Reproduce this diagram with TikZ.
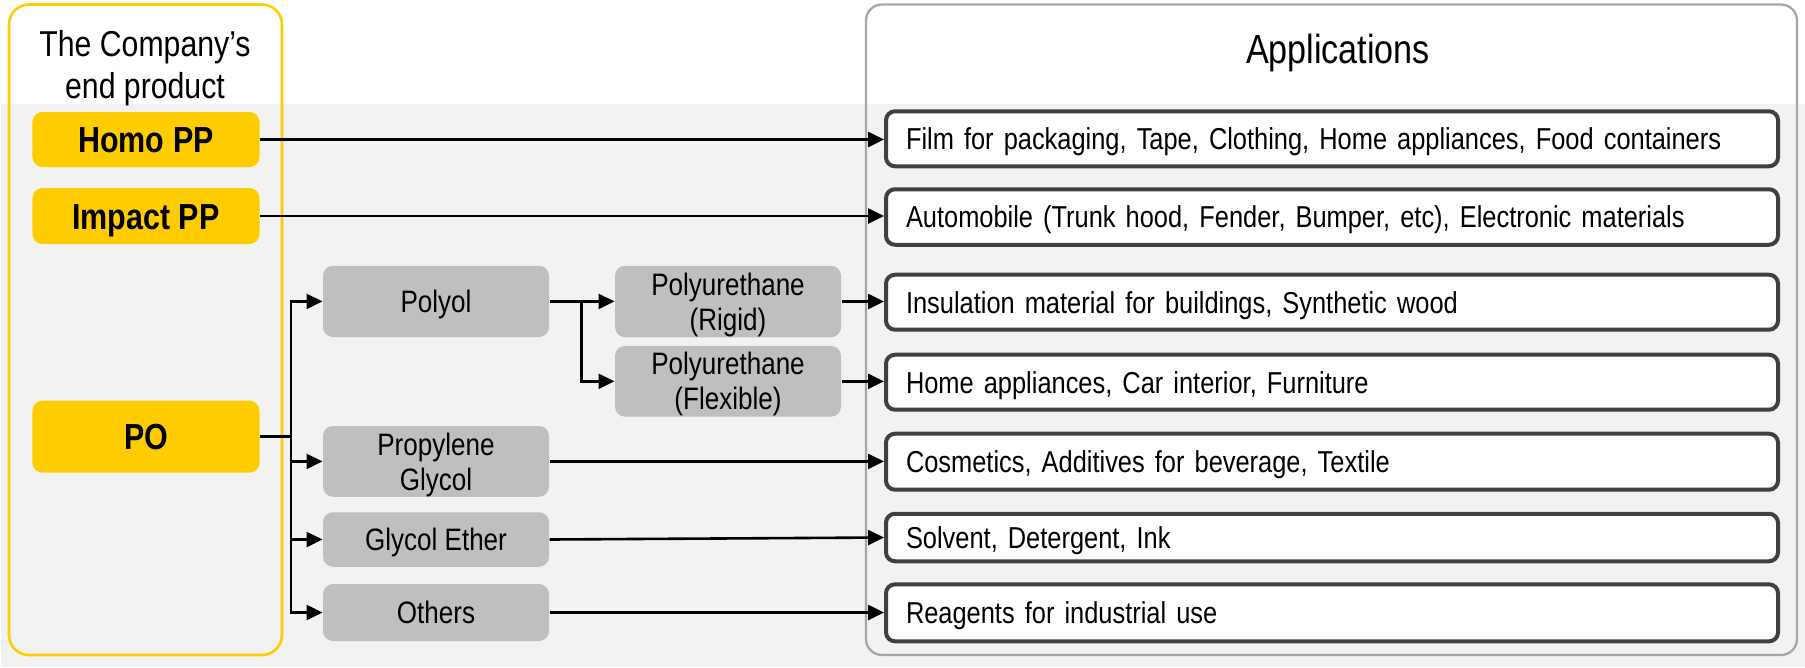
\documentclass[tikz,border=0pt]{standalone}
\usepackage{fontspec}
\setmainfont{Liberation Sans}[FakeStretch=0.84]
\usetikzlibrary{arrows.meta}

% invisible strut that balances the first line of two-line labels
\newcommand\firstlinestrut{\rule{0pt}{11.5pt}}

\definecolor{prodyellow}{HTML}{FFCC00}
\definecolor{bandgray}{HTML}{F2F2F2}
\definecolor{midgray}{HTML}{BFBFBF}
\definecolor{boxedge}{HTML}{404040}
\definecolor{framegray}{HTML}{A6A6A6}

\tikzset{
  conn/.style={line width=1.04pt, black},
  arr/.style={conn, -{Triangle[length=6.4pt,width=6pt]}},
  ybox/.style={fill=prodyellow, rounded corners=4pt, minimum width=90.8pt,
    inner sep=0pt, font=\fontsize{14.5}{17}\selectfont\bfseries,
    text height=10.4pt, text depth=0pt},
  gbox/.style={fill=midgray, rounded corners=4pt, minimum width=90.4pt,
    inner sep=0pt, align=center, font=\fontsize{12.4}{14}\selectfont},
  gone/.style={gbox, text height=8.9pt, text depth=0pt},
  appbox/.style={draw=boxedge, line width=1.6pt, fill=white, rounded corners=3.6pt,
    text width=340.8pt, inner xsep=8pt, inner ysep=0pt, align=left,
    font=\fontsize{12.1}{14}\selectfont, text height=8.7pt, text depth=0pt},
  heading/.style={inner sep=0pt, align=center, font=\fontsize{14.4}{16.7}\selectfont},
}

\begin{document}
\begin{tikzpicture}[x=0.4pt, y=-0.4pt]
\useasboundingbox (0,0) rectangle (1805,667);

% shaded band behind the product rows
\fill[bandgray] (1,104) rectangle (1805,667);

% column frames
\draw[prodyellow, line width=1.04pt, rounded corners=8pt] (9,4.5) rectangle (282,655);
\draw[framegray, line width=0.9pt, rounded corners=6.4pt] (866,4.5) rectangle (1797,655);

% column headings
\node[heading, anchor=north] (prodhead) at (145,30) {The Company’s\\end product};
\node[inner sep=0pt, anchor=base, font=\fontsize{16.25}{19}\selectfont] (apphead) at (1338,63.3) {Applications};

% end products
\node[ybox, minimum height=22pt] (homo) at (146,139.5) {Homo PP};
\node[ybox, minimum height=22.4pt] (impact) at (146,216) {Impact PP};
\node[ybox, minimum height=28.8pt] (po) at (146,436.7) {PO};

% derivatives of PO
\node[gone, minimum height=28.5pt] (polyol) at (436,301.4) {Polyol};
\node[gbox, minimum height=28.3pt] (pg) at (436,461.4) {\firstlinestrut Propylene\\Glycol};
\node[gone, minimum height=21.8pt] (ge) at (436,539.5) {Glycol Ether};
\node[gone, minimum height=22.8pt] (oth) at (436,612.5) {Others};
\node[gbox, minimum height=28.6pt] (rigid) at (728,301.5) {\firstlinestrut Polyurethane\\(Rigid)};
\node[gbox, minimum height=28.3pt] (flex) at (728,381.3) {\firstlinestrut Polyurethane\\(Flexible)};

% applications
\node[appbox, minimum height=22pt] (app1) at (1332,138.8) {Film for packaging, Tape, Clothing, Home appliances, Food containers};
\node[appbox, minimum height=22.2pt] (app2) at (1332,217) {Automobile (Trunk hood, Fender, Bumper, etc), Electronic materials};
\node[appbox, minimum height=22pt] (app3) at (1332,302.2) {Insulation material for buildings, Synthetic wood};
\node[appbox, minimum height=22pt] (app4) at (1332,382.2) {Home appliances, Car interior, Furniture};
\node[appbox, minimum height=22.4pt] (app5) at (1332,461.7) {Cosmetics, Additives for beverage, Textile};
\node[appbox, minimum height=19pt] (app6) at (1332,537.5) {Solvent, Detergent, Ink};
\node[appbox, minimum height=22.8pt] (app7) at (1332,612.8) {Reagents for industrial use};

% branching points
\coordinate (trunk) at (291,0);
\coordinate (branch) at (581.7,0);

% connectors
\draw[arr] (homo.east) -- (homo.east -| app1.west);
\draw[arr] (impact.east) -- (impact.east -| app2.west);

\draw[conn] (po.east) -- (po.east -| trunk);
\draw[arr] (po.east -| trunk) |- (polyol.west);
\draw[arr] (po.east -| trunk) |- (pg.west);
\draw[arr] (po.east -| trunk) |- (ge.west);
\draw[arr] (po.east -| trunk) |- (oth.west);

\draw[arr] (polyol.east) -- (polyol.east -| rigid.west);
\draw[arr] (polyol.east -| branch) |- (flex.west);

\draw[arr] (rigid.east) -- (rigid.east -| app3.west);
\draw[arr] (flex.east) -- (flex.east -| app4.west);
\draw[arr] (pg.east) -- (pg.east -| app5.west);
\draw[arr] (ge.east) -- (app6.west);
\draw[arr] (oth.east) -- (oth.east -| app7.west);
\end{tikzpicture}
\end{document}
